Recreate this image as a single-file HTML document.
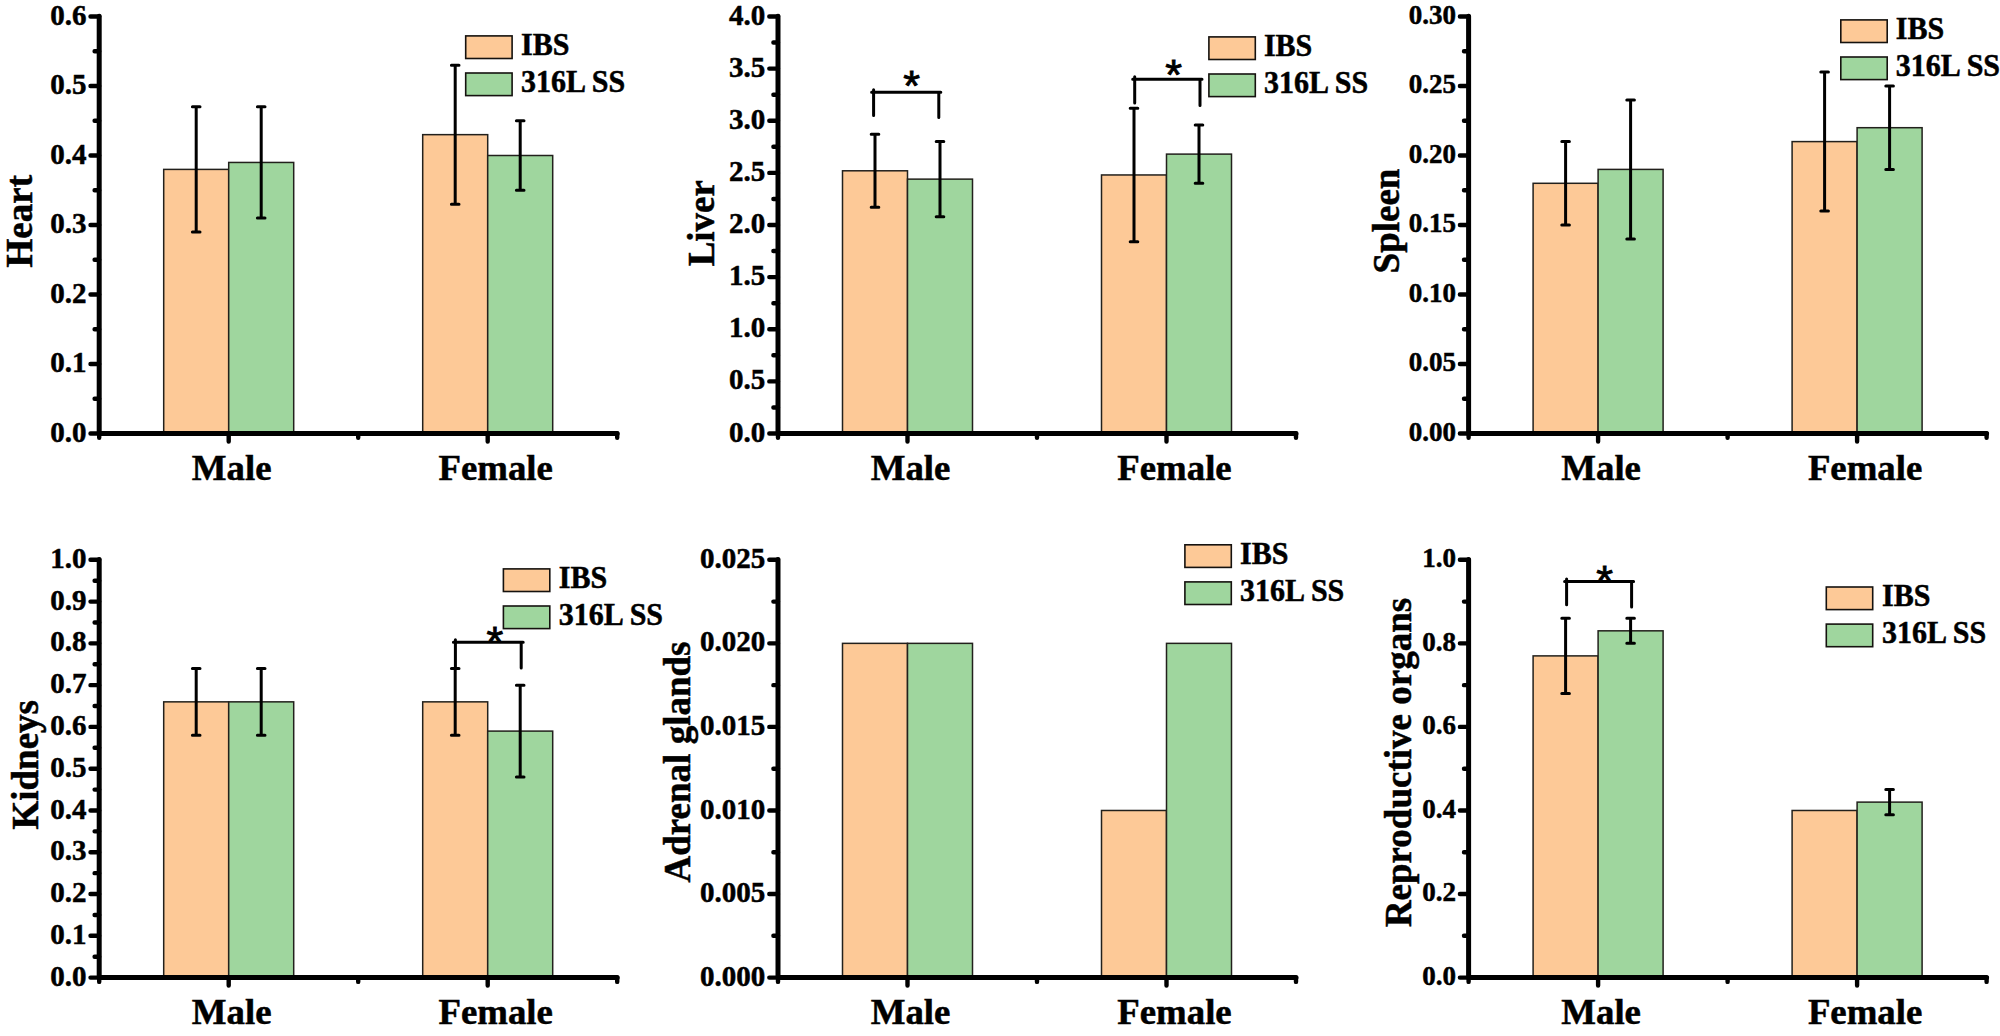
<!DOCTYPE html>
<html lang="en"><head><meta charset="utf-8"><title>Organ coefficients: IBS vs 316L SS</title>
<style>
html,body{margin:0;padding:0;background:#fff;}
body{width:2000px;height:1036px;overflow:hidden;}
svg{display:block;}
text{font-family:"Liberation Serif","Times New Roman",Times,serif;font-weight:bold;fill:#000;stroke:#000;stroke-width:0.5;}
.star{font-family:"Liberation Sans",Arial,sans-serif;font-weight:normal;stroke-width:0.9;}
.ax{stroke:#000;fill:none;}
.bar{stroke:#22201c;stroke-width:1.5;}
.lg{stroke:#15120f;stroke-width:1.6;}
.eb{stroke:#000;stroke-width:3;fill:none;stroke-linecap:round;}
.br{stroke:#000;stroke-width:3;fill:none;stroke-linejoin:round;stroke-linecap:round;}
.tk{stroke:#000;stroke-width:4.4;fill:none;stroke-linecap:round;}
</style></head><body>
<svg width="2000" height="1036" viewBox="0 0 2000 1036">
<rect x="0" y="0" width="2000" height="1036" fill="#fff"/>
<g><!-- Heart -->
<rect class="bar" x="163.7" y="169.4" width="65" height="264.1" fill="#fdc997"/>
<rect class="bar" x="228.7" y="162.45" width="65" height="271.05" fill="#9fd69e"/>
<rect class="bar" x="422.7" y="134.65" width="65" height="298.85" fill="#fdc997"/>
<rect class="bar" x="487.7" y="155.5" width="65" height="278" fill="#9fd69e"/>
<path class="eb" d="M196.2 106.85 V231.95 M192.4 106.85 H200 M192.4 231.95 H200"/>
<path class="eb" d="M261.2 106.85 V218.05 M257.4 106.85 H265 M257.4 218.05 H265"/>
<path class="eb" d="M455.2 65.15 V204.15 M451.4 65.15 H459 M451.4 204.15 H459"/>
<path class="eb" d="M520.2 120.75 V190.25 M516.4 120.75 H524 M516.4 190.25 H524"/>
<path class="ax" stroke-linecap="round" stroke-linejoin="round" stroke-width="5" d="M99.2 16.2 V433.5 H617.2"/>
<path class="tk" d="M90.5 433.5 H99.2 M90.5 364 H99.2 M90.5 294.5 H99.2 M90.5 225 H99.2 M90.5 155.5 H99.2 M90.5 86 H99.2 M90.5 16.5 H99.2 M94.6 398.75 H99.2 M94.6 329.25 H99.2 M94.6 259.75 H99.2 M94.6 190.25 H99.2 M94.6 120.75 H99.2 M94.6 51.25 H99.2 M228.7 433.5 V441.5 M487.7 433.5 V441.5 M99.2 433.5 V437.8 M358.2 433.5 V437.8 M617.2 433.5 V437.8"/>
<g font-size="29" text-anchor="end">
<text transform="translate(86.5 441.6) scale(1 1.05)">0.0</text>
<text transform="translate(86.5 372.1) scale(1 1.05)">0.1</text>
<text transform="translate(86.5 302.6) scale(1 1.05)">0.2</text>
<text transform="translate(86.5 233.1) scale(1 1.05)">0.3</text>
<text transform="translate(86.5 163.6) scale(1 1.05)">0.4</text>
<text transform="translate(86.5 94.1) scale(1 1.05)">0.5</text>
<text transform="translate(86.5 24.6) scale(1 1.05)">0.6</text>
</g>
<g font-size="36.8" text-anchor="middle">
<text x="231.7" y="479.7">Male</text>
<text x="495.7" y="479.7">Female</text>
</g>
<text font-size="37" text-anchor="middle" transform="translate(31.6 221.2) rotate(-90)">Heart</text>
<rect class="lg" x="465.7" y="35.9" width="46.4" height="22.6" fill="#fdc997"/>
<rect class="lg" x="465.7" y="73" width="46.4" height="22.6" fill="#9fd69e"/>
<text font-size="30" transform="translate(521 55.4) scale(1 1.04)">IBS</text>
<text font-size="30" transform="translate(521 92.4) scale(1 1.04)">316L SS</text>
</g>
<g><!-- Liver -->
<rect class="bar" x="842.5" y="170.79" width="65" height="262.71" fill="#fdc997"/>
<rect class="bar" x="907.5" y="179.13" width="65" height="254.37" fill="#9fd69e"/>
<rect class="bar" x="1101.5" y="174.96" width="65" height="258.54" fill="#fdc997"/>
<rect class="bar" x="1166.5" y="154.11" width="65" height="279.39" fill="#9fd69e"/>
<path class="eb" d="M875 134.3 V207.28 M871.2 134.3 H878.8 M871.2 207.28 H878.8"/>
<path class="eb" d="M940 141.6 V216.66 M936.2 141.6 H943.8 M936.2 216.66 H943.8"/>
<path class="eb" d="M1134 108.24 V241.68 M1130.2 108.24 H1137.8 M1130.2 241.68 H1137.8"/>
<path class="eb" d="M1199 124.92 V183.3 M1195.2 124.92 H1202.8 M1195.2 183.3 H1202.8"/>
<path class="br" d="M873.6 115.6 V89.7 M871.6 92.2 H940.8 M938.8 92.2 V117.6"/>
<text class="star" x="911.5" y="100.2" font-size="43" text-anchor="middle">*</text>
<path class="br" d="M1134.7 102.9 V76.8 M1132.7 79.3 H1202 M1200 79.3 V105.4"/>
<text class="star" x="1173.6" y="89.2" font-size="43" text-anchor="middle">*</text>
<path class="ax" stroke-linecap="round" stroke-linejoin="round" stroke-width="5" d="M778 16.2 V433.5 H1296"/>
<path class="tk" d="M769.3 433.5 H778 M769.3 381.38 H778 M769.3 329.25 H778 M769.3 277.12 H778 M769.3 225 H778 M769.3 172.88 H778 M769.3 120.75 H778 M769.3 68.62 H778 M769.3 16.5 H778 M773.4 407.44 H778 M773.4 355.31 H778 M773.4 303.19 H778 M773.4 251.06 H778 M773.4 198.94 H778 M773.4 146.81 H778 M773.4 94.69 H778 M773.4 42.56 H778 M907.5 433.5 V441.5 M1166.5 433.5 V441.5 M778 433.5 V437.8 M1037 433.5 V437.8 M1296 433.5 V437.8"/>
<g font-size="29" text-anchor="end">
<text transform="translate(765.3 441.6) scale(1 1.05)">0.0</text>
<text transform="translate(765.3 389.48) scale(1 1.05)">0.5</text>
<text transform="translate(765.3 337.35) scale(1 1.05)">1.0</text>
<text transform="translate(765.3 285.23) scale(1 1.05)">1.5</text>
<text transform="translate(765.3 233.1) scale(1 1.05)">2.0</text>
<text transform="translate(765.3 180.97) scale(1 1.05)">2.5</text>
<text transform="translate(765.3 128.85) scale(1 1.05)">3.0</text>
<text transform="translate(765.3 76.72) scale(1 1.05)">3.5</text>
<text transform="translate(765.3 24.6) scale(1 1.05)">4.0</text>
</g>
<g font-size="36.8" text-anchor="middle">
<text x="910.5" y="479.7">Male</text>
<text x="1174.5" y="479.7">Female</text>
</g>
<text font-size="37" text-anchor="middle" transform="translate(713.9 223.2) rotate(-90)">Liver</text>
<rect class="lg" x="1208.9" y="36.9" width="46.4" height="22.6" fill="#fdc997"/>
<rect class="lg" x="1208.9" y="74" width="46.4" height="22.6" fill="#9fd69e"/>
<text font-size="30" transform="translate(1263.9 55.5) scale(1 1.04)">IBS</text>
<text font-size="30" transform="translate(1263.9 92.5) scale(1 1.04)">316L SS</text>
</g>
<g><!-- Spleen -->
<rect class="bar" x="1533.1" y="183.3" width="65" height="250.2" fill="#fdc997"/>
<rect class="bar" x="1598.1" y="169.4" width="65" height="264.1" fill="#9fd69e"/>
<rect class="bar" x="1792.1" y="141.6" width="65" height="291.9" fill="#fdc997"/>
<rect class="bar" x="1857.1" y="127.7" width="65" height="305.8" fill="#9fd69e"/>
<path class="eb" d="M1565.6 141.6 V225 M1561.8 141.6 H1569.4 M1561.8 225 H1569.4"/>
<path class="eb" d="M1630.6 99.9 V238.9 M1626.8 99.9 H1634.4 M1626.8 238.9 H1634.4"/>
<path class="eb" d="M1824.6 72.1 V211.1 M1820.8 72.1 H1828.4 M1820.8 211.1 H1828.4"/>
<path class="eb" d="M1889.6 86 V169.4 M1885.8 86 H1893.4 M1885.8 169.4 H1893.4"/>
<path class="ax" stroke-linecap="round" stroke-linejoin="round" stroke-width="5" d="M1468.6 16.2 V433.5 H1986.6"/>
<path class="tk" d="M1459.9 433.5 H1468.6 M1459.9 364 H1468.6 M1459.9 294.5 H1468.6 M1459.9 225 H1468.6 M1459.9 155.5 H1468.6 M1459.9 86 H1468.6 M1459.9 16.5 H1468.6 M1464 398.75 H1468.6 M1464 329.25 H1468.6 M1464 259.75 H1468.6 M1464 190.25 H1468.6 M1464 120.75 H1468.6 M1464 51.25 H1468.6 M1598.1 433.5 V441.5 M1857.1 433.5 V441.5 M1468.6 433.5 V437.8 M1727.6 433.5 V437.8 M1986.6 433.5 V437.8"/>
<g font-size="27" text-anchor="end">
<text transform="translate(1455.9 440.8) scale(1 1.05)">0.00</text>
<text transform="translate(1455.9 371.3) scale(1 1.05)">0.05</text>
<text transform="translate(1455.9 301.8) scale(1 1.05)">0.10</text>
<text transform="translate(1455.9 232.3) scale(1 1.05)">0.15</text>
<text transform="translate(1455.9 162.8) scale(1 1.05)">0.20</text>
<text transform="translate(1455.9 93.3) scale(1 1.05)">0.25</text>
<text transform="translate(1455.9 23.8) scale(1 1.05)">0.30</text>
</g>
<g font-size="36.8" text-anchor="middle">
<text x="1601.1" y="479.7">Male</text>
<text x="1865.1" y="479.7">Female</text>
</g>
<text font-size="37" text-anchor="middle" transform="translate(1399 221) rotate(-90)">Spleen</text>
<rect class="lg" x="1840.8" y="19.9" width="46.4" height="22.6" fill="#fdc997"/>
<rect class="lg" x="1840.8" y="57" width="46.4" height="22.6" fill="#9fd69e"/>
<text font-size="30" transform="translate(1895.8 38.7) scale(1 1.04)">IBS</text>
<text font-size="30" transform="translate(1895.8 75.7) scale(1 1.04)">316L SS</text>
</g>
<g><!-- Kidneys -->
<rect class="bar" x="163.7" y="701.85" width="65" height="275.75" fill="#fdc997"/>
<rect class="bar" x="228.7" y="701.85" width="65" height="275.75" fill="#9fd69e"/>
<rect class="bar" x="422.7" y="701.85" width="65" height="275.75" fill="#fdc997"/>
<rect class="bar" x="487.7" y="731.1" width="65" height="246.5" fill="#9fd69e"/>
<path class="eb" d="M196.2 668.43 V735.28 M192.4 668.43 H200 M192.4 735.28 H200"/>
<path class="eb" d="M261.2 668.43 V735.28 M257.4 668.43 H265 M257.4 735.28 H265"/>
<path class="eb" d="M455.2 668.43 V735.28 M451.4 668.43 H459 M451.4 735.28 H459"/>
<path class="eb" d="M520.2 685.14 V777.06 M516.4 685.14 H524 M516.4 777.06 H524"/>
<path class="br" d="M455.4 668 V639.7 M453.4 642.2 H523.2 M521.2 642.2 V668"/>
<text class="star" x="494.8" y="655.6" font-size="43" text-anchor="middle">*</text>
<path class="ax" stroke-linecap="round" stroke-linejoin="round" stroke-width="5" d="M99.2 559.5 V977.6 H617.2"/>
<path class="tk" d="M90.5 977.6 H99.2 M90.5 935.82 H99.2 M90.5 894.04 H99.2 M90.5 852.26 H99.2 M90.5 810.48 H99.2 M90.5 768.7 H99.2 M90.5 726.92 H99.2 M90.5 685.14 H99.2 M90.5 643.36 H99.2 M90.5 601.58 H99.2 M90.5 559.8 H99.2 M94.6 956.71 H99.2 M94.6 914.93 H99.2 M94.6 873.15 H99.2 M94.6 831.37 H99.2 M94.6 789.59 H99.2 M94.6 747.81 H99.2 M94.6 706.03 H99.2 M94.6 664.25 H99.2 M94.6 622.47 H99.2 M94.6 580.69 H99.2 M228.7 977.6 V985.6 M487.7 977.6 V985.6 M99.2 977.6 V981.9 M358.2 977.6 V981.9 M617.2 977.6 V981.9"/>
<g font-size="29" text-anchor="end">
<text transform="translate(86.5 985.7) scale(1 1.05)">0.0</text>
<text transform="translate(86.5 943.92) scale(1 1.05)">0.1</text>
<text transform="translate(86.5 902.14) scale(1 1.05)">0.2</text>
<text transform="translate(86.5 860.36) scale(1 1.05)">0.3</text>
<text transform="translate(86.5 818.58) scale(1 1.05)">0.4</text>
<text transform="translate(86.5 776.8) scale(1 1.05)">0.5</text>
<text transform="translate(86.5 735.02) scale(1 1.05)">0.6</text>
<text transform="translate(86.5 693.24) scale(1 1.05)">0.7</text>
<text transform="translate(86.5 651.46) scale(1 1.05)">0.8</text>
<text transform="translate(86.5 609.68) scale(1 1.05)">0.9</text>
<text transform="translate(86.5 567.9) scale(1 1.05)">1.0</text>
</g>
<g font-size="36.8" text-anchor="middle">
<text x="231.7" y="1023.8">Male</text>
<text x="495.7" y="1023.8">Female</text>
</g>
<text font-size="37" text-anchor="middle" transform="translate(38 764.8) rotate(-90)">Kidneys</text>
<rect class="lg" x="503.4" y="568.9" width="46.4" height="22.6" fill="#fdc997"/>
<rect class="lg" x="503.4" y="606" width="46.4" height="22.6" fill="#9fd69e"/>
<text font-size="30" transform="translate(558.8 587.9) scale(1 1.04)">IBS</text>
<text font-size="30" transform="translate(558.8 624.9) scale(1 1.04)">316L SS</text>
</g>
<g><!-- Adrenal glands -->
<rect class="bar" x="842.5" y="643.36" width="65" height="334.24" fill="#fdc997"/>
<rect class="bar" x="907.5" y="643.36" width="65" height="334.24" fill="#9fd69e"/>
<rect class="bar" x="1101.5" y="810.48" width="65" height="167.12" fill="#fdc997"/>
<rect class="bar" x="1166.5" y="643.36" width="65" height="334.24" fill="#9fd69e"/>
<path class="ax" stroke-linecap="round" stroke-linejoin="round" stroke-width="5" d="M778 559.5 V977.6 H1296"/>
<path class="tk" d="M769.3 977.6 H778 M769.3 894.04 H778 M769.3 810.48 H778 M769.3 726.92 H778 M769.3 643.36 H778 M769.3 559.8 H778 M773.4 935.82 H778 M773.4 852.26 H778 M773.4 768.7 H778 M773.4 685.14 H778 M773.4 601.58 H778 M907.5 977.6 V985.6 M1166.5 977.6 V985.6 M778 977.6 V981.9 M1037 977.6 V981.9 M1296 977.6 V981.9"/>
<g font-size="29" text-anchor="end">
<text transform="translate(765.3 985.7) scale(1 1.05)">0.000</text>
<text transform="translate(765.3 902.14) scale(1 1.05)">0.005</text>
<text transform="translate(765.3 818.58) scale(1 1.05)">0.010</text>
<text transform="translate(765.3 735.02) scale(1 1.05)">0.015</text>
<text transform="translate(765.3 651.46) scale(1 1.05)">0.020</text>
<text transform="translate(765.3 567.9) scale(1 1.05)">0.025</text>
</g>
<g font-size="36.8" text-anchor="middle">
<text x="910.5" y="1023.8">Male</text>
<text x="1174.5" y="1023.8">Female</text>
</g>
<text font-size="37" text-anchor="middle" transform="translate(690.2 762) rotate(-90)">Adrenal glands</text>
<rect class="lg" x="1184.9" y="544.8" width="46.4" height="22.6" fill="#fdc997"/>
<rect class="lg" x="1184.9" y="581.9" width="46.4" height="22.6" fill="#9fd69e"/>
<text font-size="30" transform="translate(1240.1 563.6) scale(1 1.04)">IBS</text>
<text font-size="30" transform="translate(1240.1 600.6) scale(1 1.04)">316L SS</text>
</g>
<g><!-- Reproductive organs -->
<rect class="bar" x="1533.1" y="655.89" width="65" height="321.71" fill="#fdc997"/>
<rect class="bar" x="1598.1" y="630.83" width="65" height="346.77" fill="#9fd69e"/>
<rect class="bar" x="1792.1" y="810.48" width="65" height="167.12" fill="#fdc997"/>
<rect class="bar" x="1857.1" y="802.12" width="65" height="175.48" fill="#9fd69e"/>
<path class="eb" d="M1565.6 618.29 V693.5 M1561.8 618.29 H1569.4 M1561.8 693.5 H1569.4"/>
<path class="eb" d="M1630.6 618.29 V643.36 M1626.8 618.29 H1634.4 M1626.8 643.36 H1634.4"/>
<path class="eb" d="M1889.6 789.59 V814.66 M1885.8 789.59 H1893.4 M1885.8 814.66 H1893.4"/>
<path class="br" d="M1566.6 604.8 V578.9 M1564.6 581.4 H1633.6 M1631.6 581.4 V607"/>
<text class="star" x="1604.7" y="594.6" font-size="43" text-anchor="middle">*</text>
<path class="ax" stroke-linecap="round" stroke-linejoin="round" stroke-width="5" d="M1468.6 559.5 V977.6 H1986.6"/>
<path class="tk" d="M1459.9 977.6 H1468.6 M1459.9 894.04 H1468.6 M1459.9 810.48 H1468.6 M1459.9 726.92 H1468.6 M1459.9 643.36 H1468.6 M1459.9 559.8 H1468.6 M1464 935.82 H1468.6 M1464 852.26 H1468.6 M1464 768.7 H1468.6 M1464 685.14 H1468.6 M1464 601.58 H1468.6 M1598.1 977.6 V985.6 M1857.1 977.6 V985.6 M1468.6 977.6 V981.9 M1727.6 977.6 V981.9 M1986.6 977.6 V981.9"/>
<g font-size="27" text-anchor="end">
<text transform="translate(1455.9 984.9) scale(1 1.05)">0.0</text>
<text transform="translate(1455.9 901.34) scale(1 1.05)">0.2</text>
<text transform="translate(1455.9 817.78) scale(1 1.05)">0.4</text>
<text transform="translate(1455.9 734.22) scale(1 1.05)">0.6</text>
<text transform="translate(1455.9 650.66) scale(1 1.05)">0.8</text>
<text transform="translate(1455.9 567.1) scale(1 1.05)">1.0</text>
</g>
<g font-size="36.8" text-anchor="middle">
<text x="1601.1" y="1023.8">Male</text>
<text x="1865.1" y="1023.8">Female</text>
</g>
<text font-size="37" text-anchor="middle" transform="translate(1410.5 762.5) rotate(-90)">Reproductive organs</text>
<rect class="lg" x="1826.3" y="587" width="46.4" height="22.6" fill="#fdc997"/>
<rect class="lg" x="1826.3" y="624.1" width="46.4" height="22.6" fill="#9fd69e"/>
<text font-size="30" transform="translate(1882 605.5) scale(1 1.04)">IBS</text>
<text font-size="30" transform="translate(1882 642.5) scale(1 1.04)">316L SS</text>
</g>
</svg>
</body></html>
